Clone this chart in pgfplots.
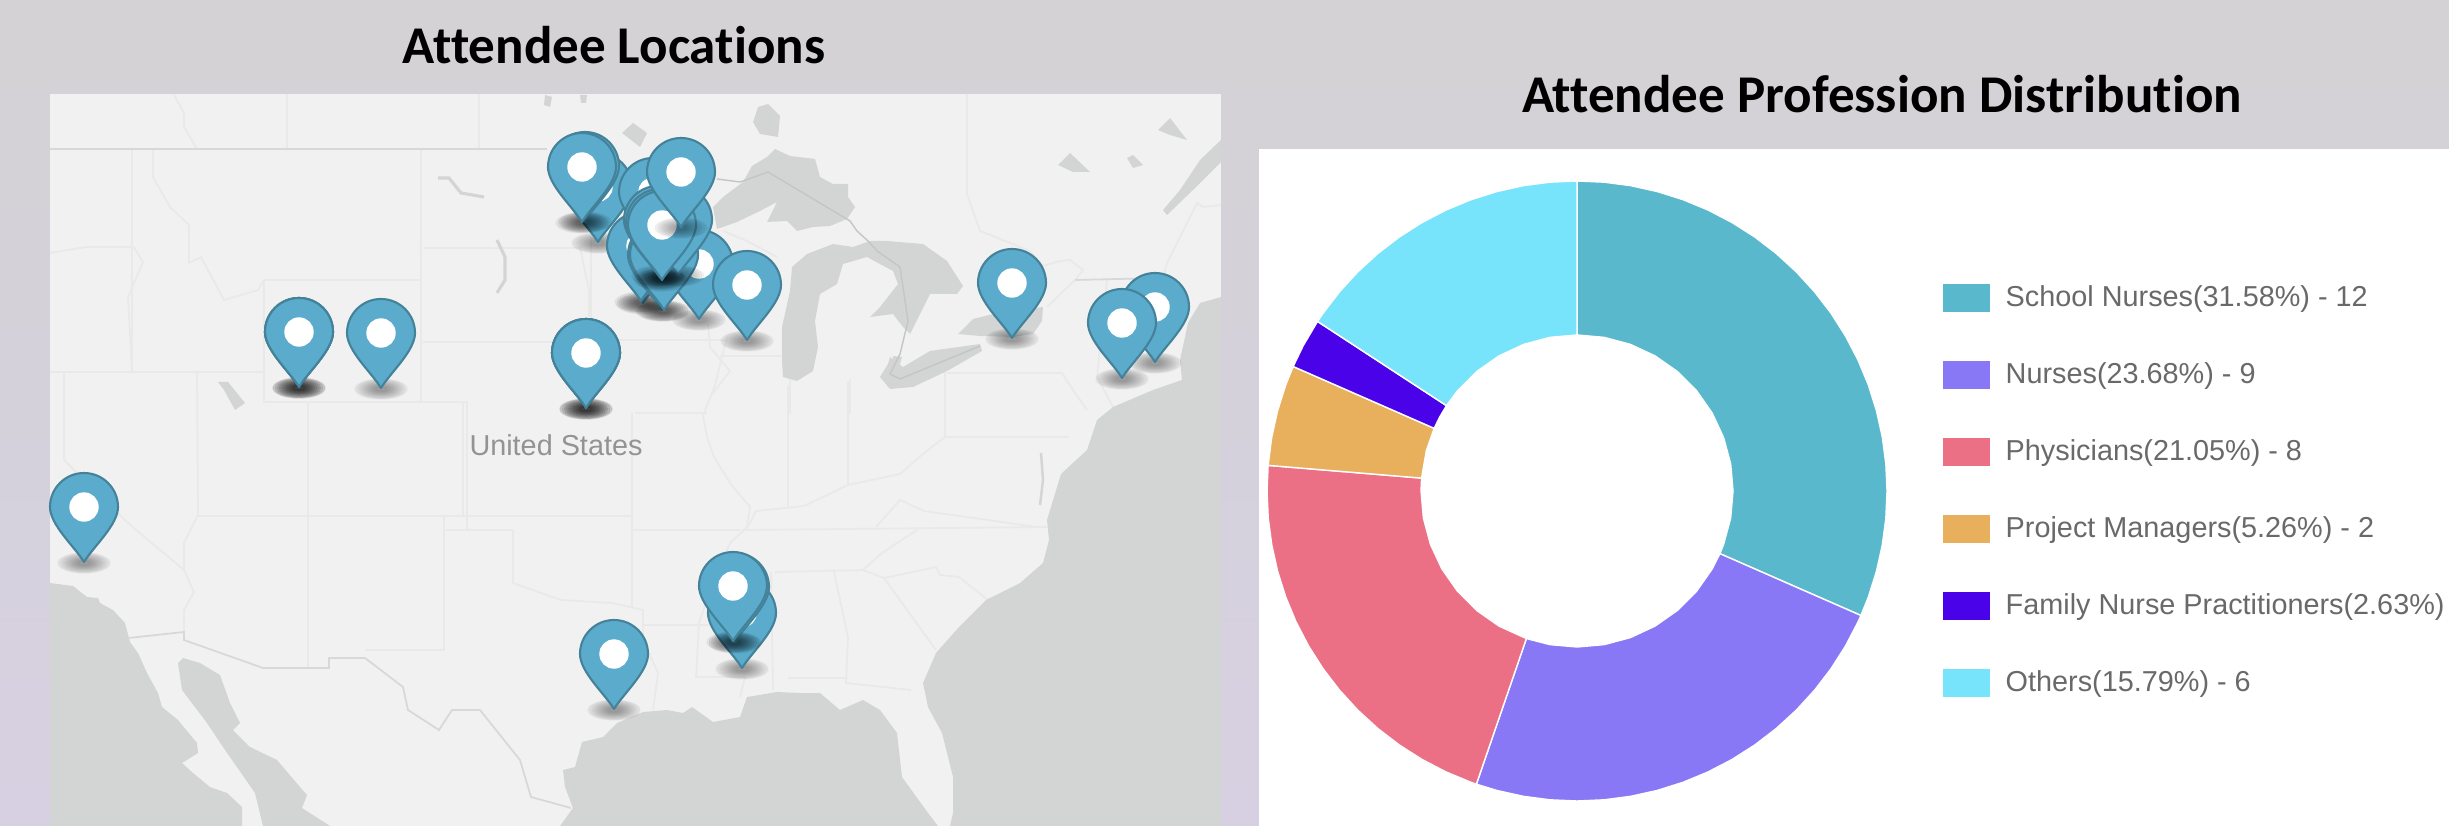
\documentclass[border=0pt]{standalone}
\usepackage{fontspec}
\usepackage{pgfplots}
\pgfplotsset{compat=1.18}
\setmainfont{Liberation Sans}
\newfontfamily\titlefont[Ligatures=NoCommon]{Carlito}
\definecolor{water}{RGB}{211,213,212}
\definecolor{land}{RGB}{241,241,241}
\definecolor{stline}{RGB}{233,233,233}
\definecolor{intline}{RGB}{216,216,216}
\definecolor{lakeline}{RGB}{196,197,197}
\definecolor{pinfill}{RGB}{91,171,204}
\definecolor{pinedge}{RGB}{68,130,154}
\definecolor{sA}{RGB}{90,184,204}
\definecolor{sB}{RGB}{136,120,246}
\definecolor{sC}{RGB}{236,112,133}
\definecolor{sD}{RGB}{232,176,92}
\definecolor{sE}{RGB}{74,2,232}
\definecolor{sF}{RGB}{120,228,252}
\definecolor{legtext}{RGB}{105,105,105}
\pgfdeclareplotmark{pin}{%
  \begin{scope}[x=0.2845pt,y=0.2845pt]
    \foreach \a/\b in {26/10,24/9.2,22/8.4,20/7.6,18/6.8,16/6,14/5.2,12/4.4,10/3.6,8/2.8,6/2}{%
      \fill[black,opacity=0.036] (0,-1) ellipse [x radius=\a,y radius=\b];}
    \draw[fill=pinfill,draw=pinedge,line width=0.6pt,line join=round]
      (0,0) .. controls (-9,15) and (-34,37) .. (-34,55)
      arc[start angle=180,end angle=0,radius=34]
      .. controls (34,37) and (9,15) .. (0,0) -- cycle;
    \fill[white] (0,55) circle [radius=14];
  \end{scope}}
\pgfplotsset{
  water/.style={fill=water,draw=none,mark=none},
  st/.style={draw=stline,line width=0.5pt,mark=none},
  intl/.style={draw=intline,line width=0.5pt,mark=none},
  pix/.style={at={(0,0)},anchor=south west,scale only axis,width=24.49cm,height=8.26cm,hide axis,clip=true}
}
\pgfplotstableread{
x y
84 562
299 387
299 387
299 387
381 388
586 408
586 408
586 408
1012 338
1155 362
1122 378
614 709
742 668
735 642
733 641
598 242
653 247
699 319
747 340
643 303
641 301
662 310
664 310
678 275
658 275
660 278
662 280
585 221
582 222
681 227
}\pins
\begin{document}
\begin{tikzpicture}
%------------ map panel in picture pixels
\begin{axis}[pix,xmin=0,xmax=2449,ymin=0,ymax=826,y dir=reverse]
\shade[top color={rgb,255:red,212;green,210;blue,212},bottom color={rgb,255:red,214;green,208;blue,226}]
  (axis cs:0,0) rectangle (axis cs:2449,826);
\addplot[fill=land,draw=none,mark=none] coordinates {(50,94)(1221,94)(1221,826)(50,826)} -- cycle;
\addplot[fill=white,draw=none,mark=none] coordinates {(1259,149)(2449,149)(2449,826)(1259,826)} -- cycle;
% state and province lines
\addplot[st] coordinates {(287,94)(287,149)};
\addplot[st] coordinates {(479,94)(479,149)};
\addplot[st] coordinates {(174,95)(184,113)(184,127)(197,149)};
\addplot[st] coordinates {(132,150)(132,372)};
\addplot[st] coordinates {(153,150)(153,177)(170,207)(189,225)(189,263)(201,257)(224,300)(258,290)(264,280)};
\addplot[st] coordinates {(421,150)(421,402)};
\addplot[st] coordinates {(264,280)(421,280)};
\addplot[st] coordinates {(264,280)(264,402)(467,402)(467,530)};
\addplot[st] coordinates {(308,402)(308,667)};
\addplot[st] coordinates {(423,248)(580,248)(589,290)(589,317)};
\addplot[st] coordinates {(423,342)(553,342)(587,340)(727,340)};
\addplot[st] coordinates {(50,253)(86,247)(134,247)(143,262)(128,297)(132,372)};
\addplot[st] coordinates {(50,372)(264,372)};
\addplot[st] coordinates {(197,372)(198,515)(184,543)(184,570)};
\addplot[st] coordinates {(64,374)(64,460)(128,523)(184,570)(194,592)(184,610)(184,632)};
\addplot[st] coordinates {(198,516)(632,516)};
\addplot[st] coordinates {(463,402)(463,516)};
\addplot[st] coordinates {(444,516)(444,650)(365,650)};
\addplot[st] coordinates {(446,530)(513,530)(513,583)(561,600)(612,603)(643,610)(643,640)(658,673)(653,710)};
\addplot[st] coordinates {(632,413)(632,607)};
\addplot[st] coordinates {(632,530)(740,530)};
\addplot[st] coordinates {(643,625)(710,625)};
\addplot[st] coordinates {(635,413)(707,413)};
\addplot[st] coordinates {(727,337)(715,385)(703,416)(707,437)(714,457)(730,483)(750,507)(747,527)(730,543)(712,585)(699,623)(696,677)(745,677)(740,697)};
\addplot[st] coordinates {(720,356)(782,356)};
\addplot[st] coordinates {(742,530)(1047,527)};
\addplot[st] coordinates {(775,572)(863,570)(882,553)(917,530)};
\addplot[st] coordinates {(771,572)(773,690)};
\addplot[st] coordinates {(834,572)(848,637)(846,683)(911,690)};
\addplot[st] coordinates {(788,678)(846,678)};
\addplot[st] coordinates {(884,578)(936,650)};
\addplot[st] coordinates {(863,570)(884,578)(936,567)(940,575)(959,577)(988,600)};
\addplot[st] coordinates {(788,385)(788,506)};
\addplot[st] coordinates {(848,382)(848,485)};
\addplot[st] coordinates {(748,527)(756,511)(804,506)(848,485)(900,474)(924,453)(945,437)};
\addplot[st] coordinates {(876,527)(900,500)(924,511)(1037,527)};
\addplot[st] coordinates {(945,369)(945,437)(1069,437)};
\addplot[st] coordinates {(947,373)(1062,373)(1073,390)(1087,410)};
\addplot[st] coordinates {(1107,280)(1097,377)};
\addplot[st] coordinates {(790,379)(790,414)};
\addplot[st] coordinates {(850,379)(850,414)};
\addplot[st] coordinates {(945,376)(945,414)};
\addplot[st] coordinates {(708,324)(710,347)(730,371)(712,394)};
\addplot[st] coordinates {(723,231)(747,241)(777,257)};
\addplot[st] coordinates {(591,237)(591,337)};
\addplot[st] coordinates {(967,94)(967,194)(980,231)(1000,239)(1030,251)(1043,266)(1060,261)(1070,260)(1083,270)(1075,280)(1047,307)};
\addplot[st] coordinates {(1163,278)(1167,263)(1197,203)(1203,207)(1221,205)};
\addplot[st] coordinates {(1097,377)(1113,407)};
% Pacific
\addplot[water] coordinates {(50,583)(73,586)(87,597)(98,598)(100,603)(113,610)(125,623)(130,642)(138,653)(147,673)(158,693)(162,707)(178,720)(197,743)(198,753)(182,763)(193,773)(210,787)(227,793)(242,807)(242,826)(50,826)} -- cycle;
% Gulf of California
\addplot[water] coordinates {(183,658)(178,663)(182,690)(207,723)(223,747)(255,793)(263,826)(330,826)(302,808)(307,795)(300,787)(277,760)(250,747)(233,730)(240,723)(230,703)(220,675)(200,663)} -- cycle;
% Gulf of Mexico
\addplot[water] coordinates {(560,826)(573,808)(565,787)(563,770)(575,767)(582,742)(603,737)(617,723)(643,712)(667,710)(683,713)(692,707)(713,722)(740,717)(747,697)(777,692)(800,693)(820,693)(840,710)(863,700)(880,710)(897,733)(902,777)(928,813)(938,826)} -- cycle;
% Atlantic
\addplot[water] coordinates {(950,826)(953,813)(953,777)(942,733)(928,707)(923,683)(936,653)(959,627)(986,600)(1020,583)(1043,563)(1049,540)(1047,520)(1061,474)(1087,450)(1097,420)(1113,407)(1153,390)(1182,380)(1180,360)(1188,323)(1200,303)(1221,297)(1221,826)} -- cycle;
% Saint Lawrence
\addplot[water] coordinates {(1221,140)(1200,160)(1180,190)(1163,210)(1167,215)(1193,190)(1213,170)(1221,162)} -- cycle;
% Superior
\addplot[water] coordinates {(713,207)(723,197)(743,182)(752,166)(767,157)(775,149)(790,156)(815,159)(820,177)(833,184)(848,184)(848,197)(855,207)(847,219)(830,226)(813,227)(797,231)(787,221)(767,222)(777,202)(760,211)(737,222)(717,229)} -- cycle;
% Michigan and Huron
\addplot[water] coordinates {(783,377)(797,381)(813,371)(818,347)(815,321)(820,294)(837,284)(843,264)(867,257)(893,271)(898,284)(880,307)(870,317)(893,314)(903,327)(910,334)(920,314)(930,294)(957,294)(963,286)(947,261)(923,244)(887,241)(870,241)(853,247)(833,244)(807,254)(792,267)(790,291)(782,327)(782,361)} -- cycle;
% Erie
\addplot[water] coordinates {(880,377)(888,364)(890,357)(903,367)(930,351)(980,344)(982,351)(947,371)(913,387)(890,389)} -- cycle;
% Ontario
\addplot[water] coordinates {(958,334)(973,319)(993,314)(1043,307)(1042,321)(1033,334)(1013,337)(980,336)} -- cycle;
% St Clair
\addplot[water] coordinates {(893,356)(902,357)(900,364)(892,366)} -- cycle;
% small lakes
\addplot[water] coordinates {(758,107)(768,104)(780,116)(778,137)(760,134)(753,122)} -- cycle;
\addplot[water] coordinates {(1058,165)(1070,153)(1090,172)(1073,172)} -- cycle;
\addplot[water] coordinates {(1127,158)(1133,155)(1143,165)(1133,168)} -- cycle;
\addplot[water] coordinates {(1158,130)(1170,118)(1187,140)(1170,135)} -- cycle;
\addplot[water] coordinates {(622,133)(633,123)(647,133)(640,147)} -- cycle;
\addplot[water] coordinates {(218,382)(228,382)(245,403)(235,410)(224,390)} -- cycle;
\addplot[water] coordinates {(545,95)(552,97)(550,107)(544,105)} -- cycle;
\addplot[water] coordinates {(580,95)(587,95)(586,103)(581,103)} -- cycle;
\addplot[draw=water,line width=0.9pt,mark=none] coordinates {(438,178)(449,178)(461,193)(484,197)};
\addplot[draw=water,line width=0.9pt,mark=none] coordinates {(497,240)(505,257)(505,280)(497,293)};
\addplot[draw=water,line width=0.7pt,mark=none] coordinates {(1041,453)(1043,480)(1040,505)};
% international lines
\addplot[intl] coordinates {(50,149)(547,149)};
\addplot[draw=lakeline,line width=0.4pt,mark=none] coordinates {(717,179)(740,182)(768,172)(850,221)(857,231)(868,241)(877,251)(900,267)(908,321)(900,354)(890,374)(900,379)(980,346)};
\addplot[intl] coordinates {(1075,280)(1163,278)};
\addplot[intl] coordinates {(128,638)(184,632)(184,640)(263,668)(329,668)(329,658)(365,658)(403,687)(408,710)(439,730)(452,710)(480,710)(520,760)(531,797)(571,808)};
% pins
\addplot[only marks,mark=pin] table[x=x,y=y] {\pins};
\node[font=\fontsize{8.2}{10}\selectfont,text=gray!85] at (axis cs:556,445) {United States};
\node[font=\titlefont\bfseries\fontsize{15.1}{18}\selectfont] at (axis cs:614,45) {Attendee Locations};
\node[font=\titlefont\bfseries\fontsize{15.1}{18}\selectfont] at (axis cs:1882,94) {Attendee Profession Distribution};
% legend swatches
\addplot[fill=sA,draw=none,mark=none] coordinates {(1943,284)(1990,284)(1990,312)(1943,312)} -- cycle;
\addplot[fill=sB,draw=none,mark=none] coordinates {(1943,361)(1990,361)(1990,389)(1943,389)} -- cycle;
\addplot[fill=sC,draw=none,mark=none] coordinates {(1943,438)(1990,438)(1990,466)(1943,466)} -- cycle;
\addplot[fill=sD,draw=none,mark=none] coordinates {(1943,515)(1990,515)(1990,543)(1943,543)} -- cycle;
\addplot[fill=sE,draw=none,mark=none] coordinates {(1943,592)(1990,592)(1990,620)(1943,620)} -- cycle;
\addplot[fill=sF,draw=none,mark=none] coordinates {(1943,669)(1990,669)(1990,697)(1943,697)} -- cycle;
\begin{scope}[every node/.style={anchor=west,inner sep=0pt,text=legtext,font=\fontsize{8.2}{10}\selectfont}]
\node at (axis cs:2005,299) {School Nurses(31.58\%) - 12};
\node at (axis cs:2005,376) {Nurses(23.68\%) - 9};
\node at (axis cs:2005,453) {Physicians(21.05\%) - 8};
\node at (axis cs:2005,530) {Project Managers(5.26\%) - 2};
\node at (axis cs:2005,607) {Family Nurse Practitioners(2.63\%)};
\node at (axis cs:2005,684) {Others(15.79\%) - 6};
\end{scope}
\end{axis}
%------------ doughnut: angle, radius about its centre; 12, 9, 8, 2, 1, 6 of 38
\begin{axis}[pix,xmin=-1577,xmax=872,ymin=-335,ymax=491]
\addplot[data cs=polar,fill=sA,draw=white,line width=0.4pt,mark=none] coordinates {
(90,310)(85,310)(80,310)(75,310)(70,310)(65,310)(60,310)(55,310)(50,310)(45,310)(40,310)(35,310)(30,310)(25,310)(20,310)(15,310)(10,310)(5,310)(0,310)(-5,310)(-10,310)(-15,310)(-20,310)(-23.68,310)
(-23.68,156)(-20,156)(-10,156)(0,156)(10,156)(20,156)(30,156)(40,156)(50,156)(60,156)(70,156)(80,156)(90,156)} -- cycle;
\addplot[data cs=polar,fill=sB,draw=white,line width=0.4pt,mark=none] coordinates {
(-23.68,310)(-25,310)(-30,310)(-35,310)(-40,310)(-45,310)(-50,310)(-55,310)(-60,310)(-65,310)(-70,310)(-75,310)(-80,310)(-85,310)(-90,310)(-95,310)(-100,310)(-105,310)(-108.95,310)
(-108.95,156)(-100,156)(-90,156)(-80,156)(-70,156)(-60,156)(-50,156)(-40,156)(-30,156)(-23.68,156)} -- cycle;
\addplot[data cs=polar,fill=sC,draw=white,line width=0.4pt,mark=none] coordinates {
(-108.95,310)(-110,310)(-115,310)(-120,310)(-125,310)(-130,310)(-135,310)(-140,310)(-145,310)(-150,310)(-155,310)(-160,310)(-165,310)(-170,310)(-175,310)(-180,310)(-184.74,310)
(-184.74,156)(-180,156)(-170,156)(-160,156)(-150,156)(-140,156)(-130,156)(-120,156)(-108.95,156)} -- cycle;
\addplot[data cs=polar,fill=sD,draw=white,line width=0.4pt,mark=none] coordinates {
(-184.74,310)(-190,310)(-195,310)(-200,310)(-203.68,310)
(-203.68,156)(-195,156)(-184.74,156)} -- cycle;
\addplot[data cs=polar,fill=sE,draw=white,line width=0.4pt,mark=none] coordinates {
(-203.68,310)(-208,310)(-213.16,310)
(-213.16,156)(-208,156)(-203.68,156)} -- cycle;
\addplot[data cs=polar,fill=sF,draw=white,line width=0.4pt,mark=none] coordinates {
(-213.16,310)(-215,310)(-220,310)(-225,310)(-230,310)(-235,310)(-240,310)(-245,310)(-250,310)(-255,310)(-260,310)(-265,310)(-270,310)
(-270,156)(-260,156)(-250,156)(-240,156)(-230,156)(-220,156)(-213.16,156)} -- cycle;
\end{axis}
\end{tikzpicture}
\end{document}
